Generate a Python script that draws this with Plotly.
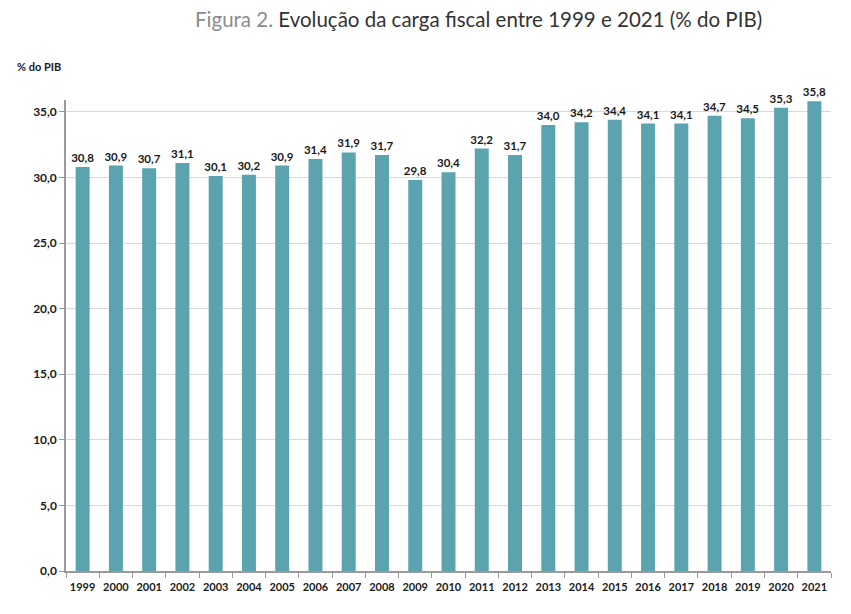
import plotly.graph_objects as go

years = [str(y) for y in range(1999, 2022)]
values = [30.8, 30.9, 30.7, 31.1, 30.1, 30.2, 30.9, 31.4, 31.9, 31.7, 29.8, 30.4,
          32.2, 31.7, 34.0, 34.2, 34.4, 34.1, 34.1, 34.7, 34.5, 35.3, 35.8]
y_ticks = [0, 5, 10, 15, 20, 25, 30, 35]
y_tick_labels = ["0,0", "5,0", "10,0", "15,0", "20,0", "25,0", "30,0", "35,0"]

labels = [f"{v:.1f}".replace(".", ",") for v in values]

font = "Lato, 'Open Sans', sans-serif"
PW, PH, L, T = 765, 471, 66, 100

fig = go.Figure(go.Bar(
    x=years, y=values, width=0.42,
    marker=dict(color="#5BA3AE", line=dict(width=0)),
    text=labels, textposition="outside", cliponaxis=False,
    textfont=dict(family=font, size=11.5, color="#1a1a1a", weight="bold"),
))

fig.update_layout(
    width=851, height=614,
    margin=dict(l=L, r=20, t=T, b=43),
    paper_bgcolor="white", plot_bgcolor="white",
    showlegend=False,
    font=dict(family=font),
    uniformtext=dict(mode="show", minsize=11.5),
    annotations=[
        dict(text="<span style='color:#8c8c8c'>Figura 2.</span> Evolução da carga fiscal entre 1999 e 2021 (% do PIB)",
             x=(478 - L) / PW, xref="paper", xanchor="center",
             y=1 + (T - 19) / PH, yref="paper", yanchor="middle",
             showarrow=False, font=dict(family=font, size=20.5, color="#333333")),
        dict(text="<b>% do PIB</b>", x=(15 - L) / PW, xref="paper", xanchor="left",
             y=1 + (T - 66) / PH, yref="paper", yanchor="middle", showarrow=False,
             font=dict(family=font, size=11, color="#1a1a1a")),
    ],
)

fig.update_xaxes(
    type="category", showline=True, linecolor="#9a9a9a", linewidth=1.5,
    ticks="outside", tickson="boundaries", ticklen=5, tickcolor="#9a9a9a",
    tickangle=0, ticklabelstandoff=5,
    tickfont=dict(family=font, size=11, color="#1a1a1a", weight="bold"),
    showgrid=False,
)
fig.update_yaxes(
    range=[0, 35.9], tickvals=y_ticks, ticktext=y_tick_labels,
    showline=True, linecolor="#9a9a9a", linewidth=1.5,
    ticks="outside", ticklen=5, tickcolor="#9a9a9a",
    showgrid=True, gridcolor="#d9d9d9", gridwidth=1,
    zeroline=False,
    tickfont=dict(family=font, size=12, color="#1a1a1a", weight="bold"),
)

fig.write_html("out.html")
